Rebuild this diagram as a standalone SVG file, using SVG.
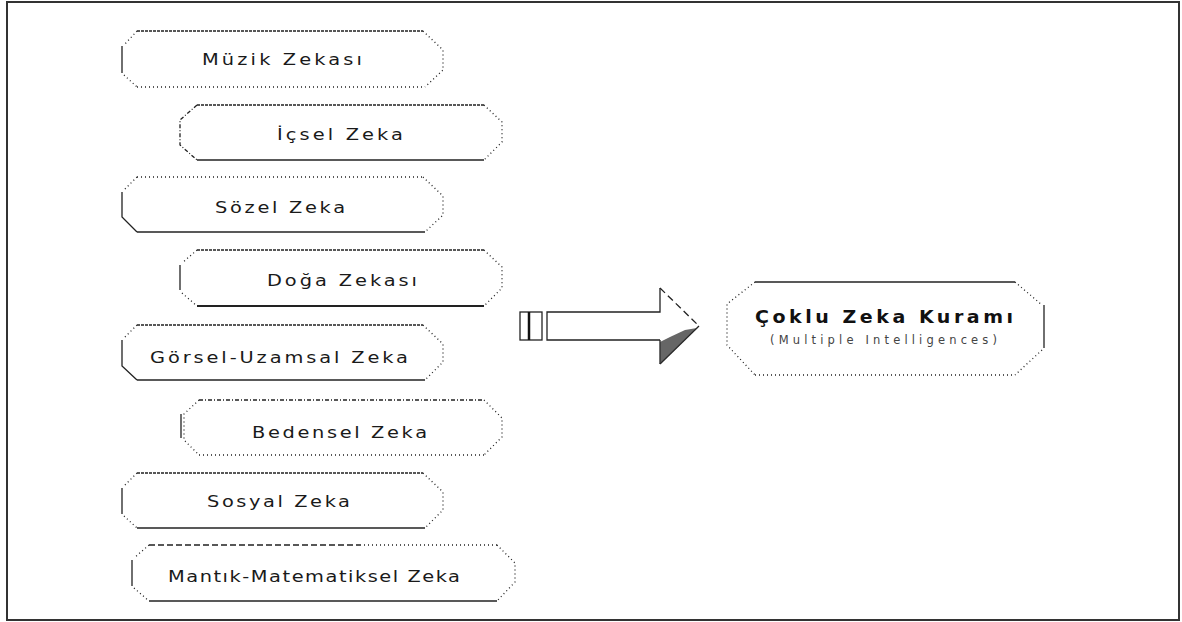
<svg xmlns="http://www.w3.org/2000/svg" width="1182" height="622" viewBox="0 0 1182 622">
<style>
.t{font-family:"DejaVu Sans","Liberation Sans",sans-serif;font-size:15.5px;fill:#1a1a1a}
.tb{font-family:"DejaVu Sans","Liberation Sans",sans-serif;font-size:17px;font-weight:bold;fill:#111}
.ts{font-family:"DejaVu Sans","Liberation Sans",sans-serif;font-size:11.5px;fill:#444}
.e{fill:none;stroke:#222;stroke-width:1.3}
.dd{stroke-dasharray:3 1}
.dt{stroke-dasharray:1 3}
.dash{stroke-dasharray:6 3}
.dc{stroke-dasharray:4 2 1 2}
.thick{stroke-width:2.2}
</style>
<rect x="7" y="2" width="1172" height="618" fill="#fff" stroke="#333" stroke-width="2"/>

<g id="n-muzik">
<path class="e dd" d="M137,31 L423,31"/>
<path class="e dt" d="M137,31 L124,45"/>
<path class="e" d="M122,46 L122,73"/>
<path class="e dt" d="M124,75 L137,87"/>
<path class="e dt" d="M137,87 L425,87"/>
<path class="e dt" d="M423,31 L443,50 L443,70 L425,87"/>
<text class="t" transform="matrix(1.25 0 0 1 202 65)" textLength="128" lengthAdjust="spacing">Müzik Zekası</text>
</g>

<g id="n-icsel">
<path class="e dd" d="M197,105 L484,105"/>
<path class="e dc" d="M197,105 L180,120 L180,145 L197,160"/>
<path class="e" d="M197,160 L484,160"/>
<path class="e dt" d="M484,105 L502,122 L502,142 L484,160"/>
<text class="t" transform="matrix(1.25 0 0 1 277 140)" textLength="100.8" lengthAdjust="spacing">İçsel Zeka</text>
</g>

<g id="n-sozel">
<path class="e dt" d="M137,177 L423,177"/>
<path class="e dt" d="M137,177 L124,190"/>
<path class="e" d="M122,192 L122,217 L137,232"/>
<path class="e" d="M137,232 L425,232"/>
<path class="e dt" d="M423,177 L443,196 L443,215 L425,232"/>
<text class="t" transform="matrix(1.25 0 0 1 215 213)" textLength="104" lengthAdjust="spacing">Sözel Zeka</text>
</g>

<g id="n-doga">
<path class="e dd" d="M197,250 L484,250"/>
<path class="e dt" d="M197,250 L182,263"/>
<path class="e" d="M180,265 L180,290"/>
<path class="e dt" d="M182,293 L197,306"/>
<path class="e thick" d="M197,306 L484,306"/>
<path class="e dt" d="M484,250 L502,267 L502,288 L484,306"/>
<text class="t" transform="matrix(1.25 0 0 1 267 286)" textLength="120" lengthAdjust="spacing">Doğa Zekası</text>
</g>

<g id="n-gorsel">
<path class="e dd" d="M137,325 L423,325"/>
<path class="e dt" d="M137,325 L124,338"/>
<path class="e" d="M122,340 L122,366 L137,380"/>
<path class="e" d="M137,380 L425,380"/>
<path class="e dt" d="M423,325 L443,344 L443,362 L425,380"/>
<text class="t" transform="matrix(1.25 0 0 1 150 363)" textLength="206.4" lengthAdjust="spacing">Görsel-Uzamsal Zeka</text>
</g>

<g id="n-bedensel">
<path class="e dc" d="M199,400 L484,400"/>
<path class="e dt" d="M199,400 L184,414 L184,440 L199,455"/>
<path class="e" d="M181,414 L181,438"/>
<path class="e dt" d="M199,455 L484,455"/>
<path class="e dt" d="M484,400 L502,418 L502,437 L484,455"/>
<text class="t" transform="matrix(1.25 0 0 1 252 438)" textLength="140" lengthAdjust="spacing">Bedensel Zeka</text>
</g>

<g id="n-sosyal">
<path class="e dd" d="M137,473 L423,473"/>
<path class="e dt" d="M137,473 L124,486"/>
<path class="e" d="M122,488 L122,514"/>
<path class="e dt" d="M124,516 L137,528"/>
<path class="e" d="M137,528 L425,528"/>
<path class="e dt" d="M423,473 L443,492 L443,510 L425,528"/>
<text class="t" transform="matrix(1.25 0 0 1 207 507)" textLength="114.4" lengthAdjust="spacing">Sosyal Zeka</text>
</g>

<g id="n-mantik">
<path class="e dash" d="M149,545 L360,545"/>
<path class="e dt" d="M360,545 L497,545"/>
<path class="e dt" d="M149,545 L134,558"/>
<path class="e" d="M132,560 L132,586"/>
<path class="e dt" d="M134,588 L149,601"/>
<path class="e" d="M149,601 L497,601"/>
<path class="e dt" d="M497,545 L515,563 L515,582 L497,601"/>
<text class="t" transform="matrix(1.25 0 0 1 168 582)" textLength="233.6" lengthAdjust="spacing">Mantık-Matematiksel Zeka</text>
</g>

<g id="connectors">
<rect x="520" y="312" width="22" height="28" fill="#fff" stroke="#222" stroke-width="1.3"/>
<line x1="529" y1="312" x2="529" y2="340" stroke="#111" stroke-width="2.5"/>
<path d="M547,312 L660,312 L660,288 L660,364 L660,340 L547,340 Z" fill="#fff" stroke="none"/>
<path d="M660,288 L699,326 L660,364 Z" fill="#fff" stroke="none"/>
<path class="e" d="M660,340 L547,340 L547,312 L660,312 L660,288"/>
<path class="e" d="M660,340 L660,364"/>
<path class="e" d="M660,288 L699,326" stroke-dasharray="7 4"/>
<path class="e" d="M699,326 L660,364"/>
<path d="M660,342 L660,364 L697,328 L685,330 L670,337 Z" fill="#333" opacity="0.75"/>
</g>

<g id="n-coklu">
<path class="e" d="M755,282 L1015,282"/>
<path class="e dt" d="M1015,282 L1042,305"/>
<path class="e" d="M1044,305 L1044,348" stroke-width="2"/>
<path class="e dt" d="M1042,350 L1015,375"/>
<path class="e dt" d="M755,375 L1015,375"/>
<path class="e dt" d="M755,282 L727,304 L727,345 L755,375"/>
<text class="tb" transform="matrix(1.12 0 0 1 755 323)" textLength="230.4" lengthAdjust="spacing">Çoklu Zeka Kuramı</text>
<text class="ts" x="770" y="344" textLength="227" lengthAdjust="spacing">(Multiple Intelligences)</text>
</g>
</svg>
